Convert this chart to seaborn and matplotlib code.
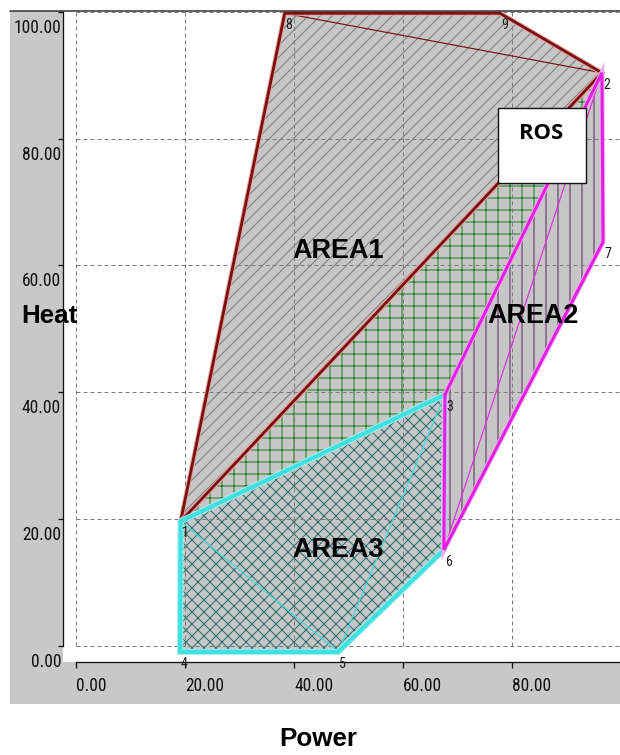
import matplotlib
matplotlib.use("Agg")
import matplotlib.pyplot as plt
import matplotlib.patheffects as pe
from matplotlib import font_manager
from matplotlib.font_manager import FontProperties
from matplotlib.patches import Rectangle
from matplotlib.lines import Line2D
from matplotlib.transforms import ScaledTranslation
import pandas as pd
import seaborn as sns

# Operating-region corner points (Power, Heat)
point_ids = ["1", "2", "3", "4", "5", "6", "7", "8", "9"]
power = [19.2, 96.5, 67.7, 19.1, 48.1, 67.5, 96.7, 38.3, 77.8]
heat = [19.6, 90.4, 39.6, -1.0, -1.0, 15.1, 63.7, 99.8, 99.8]

# Region outlines, given as point ids
area1_ids = ["1", "8", "9", "2"]
area2_ids = ["3", "2", "7", "6"]
area3_ids = ["1", "3", "6", "5", "4"]
mid_ids = ["1", "2", "3"]
area1_inner = [["8", "2"]]
area2_inner = [["6", "2"]]
area3_inner = [["1", "5"], ["3", "5"]]

area_names = ["AREA1", "AREA2", "AREA3"]
x_ticks = [0, 20, 40, 60, 80]
y_ticks = [0, 20, 40, 60, 80, 100]
x_label = "Power"
y_label = "Heat"
box_label = "ROS"

pts = pd.DataFrame({"power": power, "heat": heat}, index=point_ids)


def loop(ids, close=True):
    seq = list(ids) + ([ids[0]] if close else [])
    d = pts.loc[seq].reset_index(drop=True)
    d["order"] = range(len(d))
    return d


def narrow_font_file():
    """Pick the narrowest regular sans face that is installed."""
    entries = font_manager.fontManager.ttflist
    wanted = [
        ("Liberation Sans Narrow", None),
        ("Arial Narrow", None),
        ("Roboto Condensed", None),
        ("Open Sans Condensed", None),
        ("Noto Sans", "condensed"),
        ("Noto Sans Condensed", None),
        ("DejaVu Sans", "condensed"),
    ]
    for name, stretch in wanted:
        for f in entries:
            if f.name != name or f.style != "normal":
                continue
            if f.weight not in (400, "normal", "regular", "book"):
                continue
            if stretch is not None and f.stretch != stretch:
                continue
            return f.fname
    return None


sns.set_theme(style="white")
plt.rcParams["hatch.linewidth"] = 1.0
nf = narrow_font_file()
if nf:
    def NARROW(size):
        return dict(fontproperties=FontProperties(fname=nf, size=size))
else:
    def NARROW(size):
        return dict(family="DejaVu Sans", fontstretch="condensed", fontsize=size)
BOLD = ["Liberation Sans", "DejaVu Sans"]

W, H, DPI = 620, 755, 72
fig = plt.figure(figsize=(W / DPI, H / DPI), dpi=DPI)
fig.patch.set_facecolor("white")

# grey window panel behind the plot
fig.add_artist(Rectangle((10 / W, (H - 704) / H), (W - 10) / W, (704 - 11) / H,
                         transform=fig.transFigure, facecolor="#c8c8c8",
                         edgecolor="none", zorder=-10))
fig.add_artist(Line2D([10 / W, 1.0], [1 - 11 / H, 1 - 11 / H], color="#3a3a3a",
                      lw=1.6, transform=fig.transFigure, zorder=10))

ax = fig.add_axes([63 / W, (H - 662) / H, (W - 63) / W, (662 - 11) / H])
ax.set_facecolor("white")
xmin, xmax = -2.39, 99.82
ymin, ymax = -2.60, 100.16
ax.set_xlim(xmin, xmax)
ax.set_ylim(ymin, ymax)

fill_grey = "#c6c6c6"

# hatched region fills
fills = [
    (area1_ids, "//", "#7a7a7a", 1.0),
    (mid_ids, "+", "#1d7d1d", 1.1),
    (area3_ids, "xx", "#2b6b6b", 1.2),
    (area2_ids, "|", "#5a2a5a", 1.3),
]
for ids, hatch, hcol, z in fills:
    d = loop(ids, close=False)
    ax.fill(d["power"], d["heat"], facecolor=fill_grey, edgecolor=hcol,
            linewidth=0, hatch=hatch, zorder=z)

# dashed grid restricted to the data range
grid_kw = dict(colors="#7c7c7c", linestyles=(0, (4, 3)), linewidth=1.0, zorder=1.5)
ax.vlines(x_ticks, 0, y_ticks[-1], **grid_kw)
ax.hlines(y_ticks, 0, xmax, **grid_kw)

# thin construction lines inside the regions
for segs, col in [(area1_inner, "#7a1414"), (area2_inner, "#e030e0"),
                  (area3_inner, "#45dada")]:
    for seg in segs:
        d = loop(seg, close=False)
        sns.lineplot(data=d, x="power", y="heat", sort=False, estimator=None,
                     color=col, lw=1.2, legend=False, ax=ax, zorder=2)

# region outlines
outlines = [
    (area1_ids, "#7a1010", "#e6a2a2", 2.8, 3.0),
    (area3_ids, "#40e0e0", "#a8eeee", 4.2, 3.1),
    (area2_ids, "#e020e0", "#f0a8f0", 3.0, 3.2),
]
for ids, col, halo, lw, z in outlines:
    d = loop(ids)
    sns.lineplot(data=d, x="power", y="heat", sort=False, estimator=None,
                 color=col, lw=lw, legend=False, ax=ax, zorder=z,
                 solid_joinstyle="miter",
                 path_effects=[pe.Stroke(linewidth=lw + 2.0, foreground=halo),
                               pe.Normal()])
# lower edge of AREA1 drawn again over the green region
d = loop(["1", "2"], close=False)
sns.lineplot(data=d, x="power", y="heat", sort=False, estimator=None,
             color="#7a1010", lw=2.8, legend=False, ax=ax, zorder=3.05,
             path_effects=[pe.Stroke(linewidth=4.8, foreground="#e6a2a2"),
                           pe.Normal()])

# point numbers
for pid, px, py in zip(point_ids, power, heat):
    ax.annotate(pid, (px, py), xytext=(1, -5), textcoords="offset points",
                ha="left", va="top", color="#202020", zorder=4, **NARROW(14))

# ROS box
ax.add_patch(Rectangle((77.4, 73.0), 16.2, 11.8, facecolor="white",
                       edgecolor="#111111", lw=1.4, zorder=5))
ax.text(85.3, 80.9, box_label, ha="center", va="center", fontsize=22,
        fontweight="bold", family=["Open Sans", "DejaVu Sans"], zorder=6,
        color="black")

# region names
for name, (tx, ty) in zip(area_names, [(48.1, 62.3), (83.9, 52.0), (48.1, 15.1)]):
    ax.text(tx, ty, name, ha="center", va="center", fontsize=27,
            fontweight="bold", family=BOLD, color="black", zorder=6)

# axes
ax.grid(False)
for s in ["top", "right"]:
    ax.spines[s].set_visible(False)
ax.spines["left"].set_bounds(0, y_ticks[-1])
ax.spines["bottom"].set_bounds(0, xmax)
for s in ["left", "bottom"]:
    ax.spines[s].set_color("#111111")
    ax.spines[s].set_linewidth(1.3)
    ax.spines[s].set_zorder(8)

ax.set_xticks(x_ticks)
ax.set_yticks(y_ticks)
ax.set_xticklabels([f"{v:.2f}" for v in x_ticks], color="#111111", **NARROW(17.5))
ax.set_yticklabels([f"{v:.2f}" for v in y_ticks], color="#111111", **NARROW(17.5))
ax.tick_params(axis="y", direction="out", length=5, width=1.3, pad=-3,
               color="#111111", left=True)
ax.tick_params(axis="x", direction="out", length=6, width=1.3, pad=9,
               color="#111111", bottom=True)
shift = ScaledTranslation(0, -14 / DPI, fig.dpi_scale_trans)
for lab in ax.get_yticklabels():
    lab.set_transform(lab.get_transform() + shift)
for lab in ax.get_xticklabels():
    lab.set_ha("left")
ax.set_xlabel("")
ax.set_ylabel("")

fig.text(21 / W, 1 - 316 / H, y_label, ha="left", va="center", fontsize=26,
         fontweight="bold", family=BOLD, color="black", zorder=12)
fig.text(318 / W, 1 - 739 / H, x_label, ha="center", va="center", fontsize=26,
         fontweight="bold", family=BOLD, color="black", zorder=12)

fig.savefig("out.png", dpi=DPI, facecolor="white")
